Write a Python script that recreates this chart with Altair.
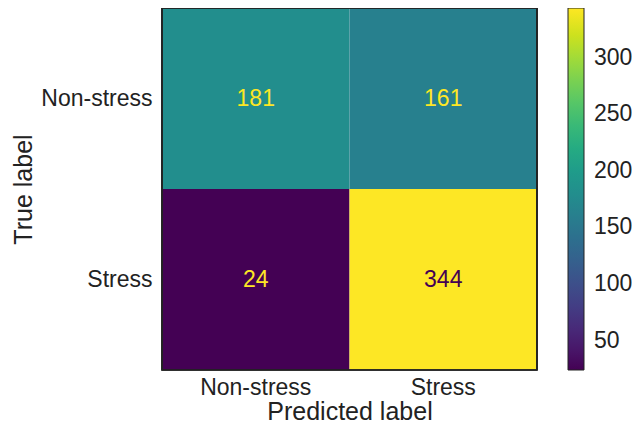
import altair as alt
import pandas as pd

true_labels = ["Non-stress", "Non-stress", "Stress", "Stress"]
pred_labels = ["Non-stress", "Stress", "Non-stress", "Stress"]
counts = [181, 161, 24, 344]
order = ["Non-stress", "Stress"]
cbar_ticks = [50, 100, 150, 200, 250, 300]

df = pd.DataFrame({"true": true_labels, "pred": pred_labels, "count": counts})
FONT = "Liberation Sans"
W, H = 375, 362

base = alt.Chart(df).encode(
    x=alt.X("pred:N", sort=order, title="Predicted label",
            axis=alt.Axis(labelAngle=0, ticks=False, domain=False, labelFontSize=23,
                          titleFontSize=25, labelPadding=6, titlePadding=0,
                          labelColor="#222", titleColor="#222", titleFontWeight="normal",
                          labelFont=FONT, titleFont=FONT)),
    y=alt.Y("true:N", sort=order, title="True label",
            axis=alt.Axis(ticks=False, domain=False, labelFontSize=23,
                          titleFontSize=25, labelPadding=10, titlePadding=4,
                          labelColor="#222", titleColor="#222", titleFontWeight="normal",
                          labelFont=FONT, titleFont=FONT)),
)

rects = base.mark_rect().encode(
    color=alt.Color("count:Q",
                    scale=alt.Scale(scheme="viridis", domain=[24, 344]),
                    legend=alt.Legend(title=None, values=cbar_ticks, gradientLength=H,
                                      gradientThickness=16, gradientStrokeColor="#222",
                                      gradientStrokeWidth=1, labelFontSize=23,
                                      labelFont=FONT, labelColor="#222", labelOffset=10,
                                      offset=31, orient="right", direction="vertical")),
)

texts = base.mark_text(fontSize=23, font=FONT).encode(
    text=alt.Text("count:Q"),
    color=alt.condition(alt.datum["count"] > 184, alt.value("#440154"), alt.value("#fde725")),
)

frame = alt.Chart(df).mark_rect(fill=None, stroke="#222", strokeWidth=1.2).encode(
    x=alt.value(0), x2=alt.value(W), y=alt.value(0), y2=alt.value(H)
)

chart = (rects + texts + frame).properties(
    width=W, height=H,
    autosize=alt.AutoSizeParams(type="none"),
    padding={"left": 154, "top": 0, "right": 95, "bottom": 57},
).configure_view(stroke=None)

chart.save("out.html", embed_options={"renderer": "svg", "actions": False})
